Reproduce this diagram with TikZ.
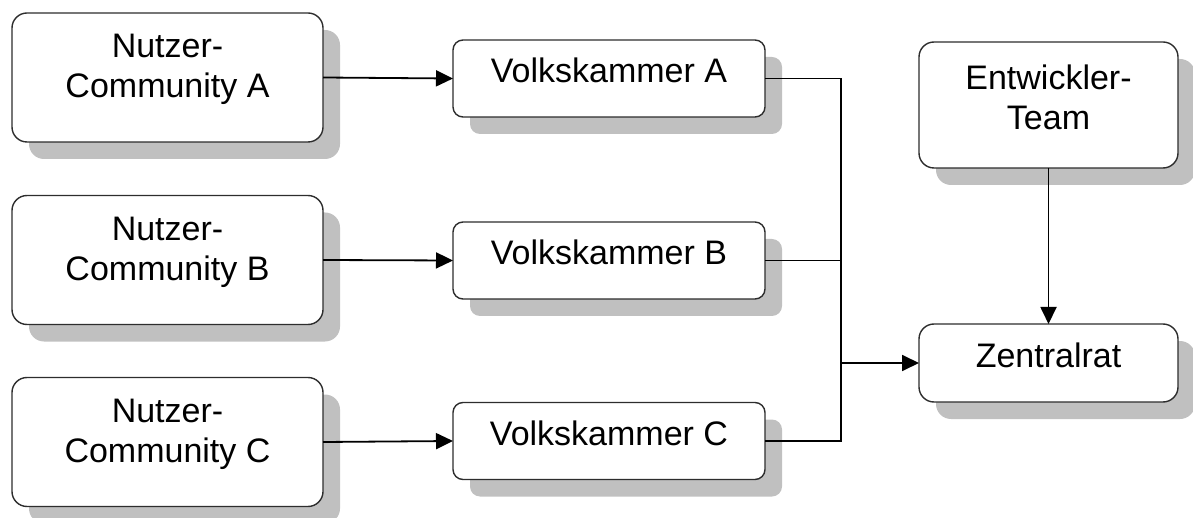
\documentclass[tikz,border=0pt]{standalone}
\usepackage{fontspec}
\setmainfont{Liberation Sans}
\usetikzlibrary{arrows.meta,shadows}
\definecolor{shadowgray}{RGB}{192,192,192}
\definecolor{edgegray}{RGB}{45,45,45}
\tikzset{
  card/.style={draw=edgegray, line width=1.4pt, fill=white, inner sep=0pt, outer sep=0pt,
    drop shadow={shadow xshift=17pt, shadow yshift=-17pt, fill=shadowgray, opacity=1}},
  bigcard/.style={card, rounded corners=15pt, minimum width=311pt, minimum height=129pt},
  smallcard/.style={card, rounded corners=10pt, minimum width=312pt, minimum height=77pt},
  sidecard/.style={card, rounded corners=15pt, minimum width=259pt},
  caption/.style={align=center, font=\fontsize{34}{40}\selectfont, inner sep=0pt, yshift=8pt},
  link/.style={line width=1.8pt, black},
  flow/.style={link, -{Triangle[length=17pt, width=16pt]}}
}
\begin{document}
\begin{tikzpicture}[x=1pt, y=-1pt]
\useasboundingbox (0,0) rectangle (1193,518);

% user communities
\node[bigcard] (na) at (167.5,77.5) {};
\node[bigcard] (nb) at (167.5,260) {};
\node[bigcard] (nc) at (167.5,442) {};
\node[caption] (tna) at (na.center) {Nutzer-\\Community A};
\node[caption] (tnb) at (nb.center) {Nutzer-\\Community B};
\node[caption] (tnc) at (nc.center) {Nutzer-\\Community C};

% people's chambers
\node[smallcard] (va) at (609,78.5) {};
\node[smallcard] (vb) at (609,260.5) {};
\node[smallcard] (vc) at (609,441) {};
\node[caption] (tva) at (va.center) {Volkskammer A};
\node[caption] (tvb) at (vb.center) {Volkskammer B};
\node[caption] (tvc) at (vc.center) {Volkskammer C};

% developer team and central council
\node[sidecard, minimum height=126pt] (et) at (1048.5,105) {};
\node[sidecard, minimum height=78pt] (zr) at (1048.5,363) {};
\node[caption] (tet) at (et.center) {Entwickler-\\Team};
\node[caption] (tzr) at (zr.center) {Zentralrat};

% connectors
\draw[flow] (na.east) -- (va.west);
\draw[flow] (nb.east) -- (vb.west);
\draw[flow] (nc.east) -- (vc.west);

\coordinate (j) at (841,363);
\draw[link] (va.east) -| (j);
\draw[link] (vb.east) -| (j);
\draw[link] (vc.east) -| (j);
\draw[flow] (j) -- (zr.west);
\draw[flow] (et.south) -- (zr.north);
\end{tikzpicture}
\end{document}
